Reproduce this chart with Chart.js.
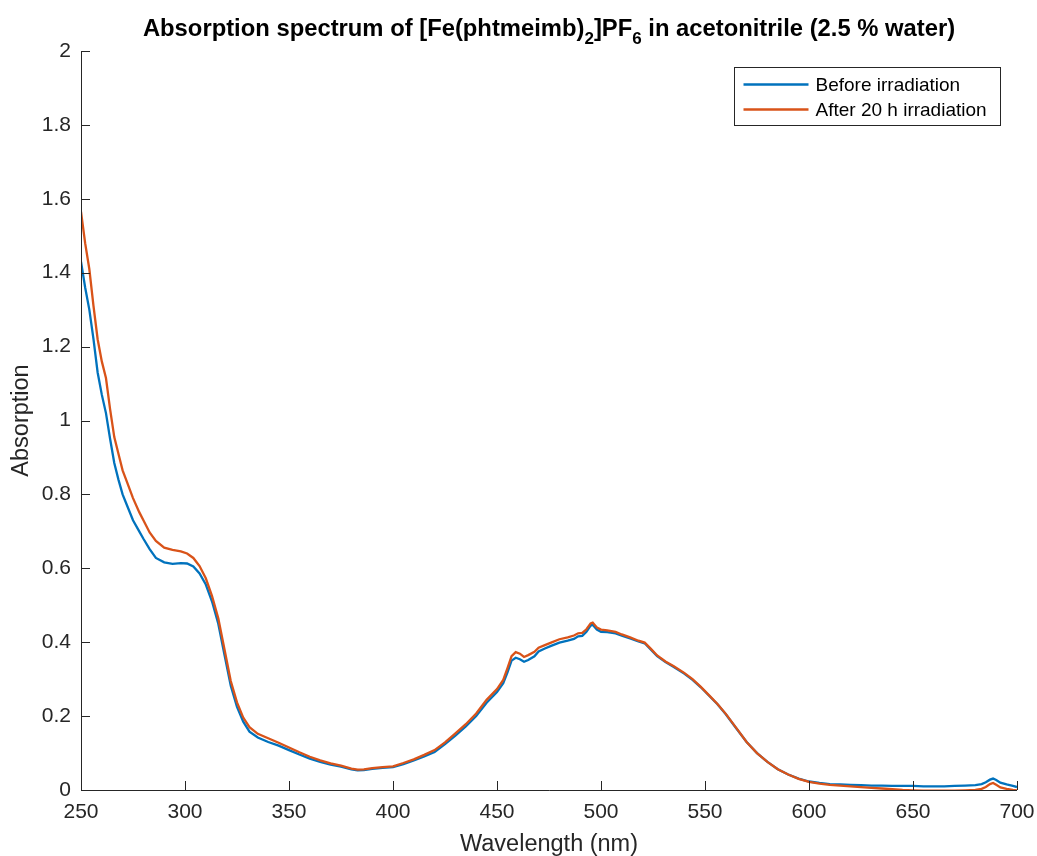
<!DOCTYPE html>
<html>
<head>
<meta charset="utf-8">
<script src="https://cdn.jsdelivr.net/npm/chart.js@4.4.1/dist/chart.umd.min.js"></script>
<style>
  html, body { margin: 0; padding: 0; background: #fff; }
  canvas { display: block; }
</style>
</head>
<body>
<canvas id="spectrum" width="1037" height="856"></canvas>
<script>
// wavelength grid (nm) shared by both spectra
const wavelengths = [
  250, 252, 254, 256, 258, 260, 262, 264, 266, 268, 270, 272, 275, 278, 280, 283, 286, 290, 294, 298,
  301, 304, 307, 310, 313, 316, 319, 322, 325, 328, 331, 335, 340, 345, 350, 355, 360, 365, 370, 375,
  380, 383, 386, 390, 395, 400, 405, 410, 415, 420, 425, 430, 435, 440, 445, 450, 453, 455, 457, 459,
  461, 463, 465, 468, 470, 473, 476, 480, 484, 487, 489, 491, 493, 495, 496, 498, 500, 503, 507, 510,
  514, 518, 521, 524, 527, 531, 535, 540, 544, 548, 552, 556, 560, 565, 570, 575, 580, 585, 590, 595,
  600, 605, 610, 615, 620, 625, 630, 635, 640, 645, 650, 655, 660, 665, 670, 675, 680, 683, 685, 687,
  688.5, 690, 692, 695, 698, 700
];

const beforeIrr = [
  1.43, 1.36, 1.30, 1.22, 1.13, 1.07, 1.02, 0.95, 0.885, 0.84, 0.80, 0.772, 0.73, 0.70, 0.68, 0.652, 0.628, 0.616, 0.612, 0.614,
  0.613, 0.605, 0.586, 0.556, 0.51, 0.45, 0.365, 0.282, 0.225, 0.185, 0.158, 0.142, 0.13, 0.12, 0.108, 0.096, 0.085, 0.076, 0.069, 0.063,
  0.056, 0.053, 0.054, 0.057, 0.060, 0.062, 0.070, 0.080, 0.091, 0.103, 0.124, 0.147, 0.172, 0.200, 0.236, 0.265, 0.289, 0.318, 0.350, 0.358,
  0.354, 0.347, 0.352, 0.362, 0.375, 0.383, 0.390, 0.399, 0.404, 0.409, 0.416, 0.417, 0.428, 0.445, 0.447, 0.434, 0.428, 0.427, 0.424, 0.418,
  0.410, 0.402, 0.397, 0.380, 0.362, 0.346, 0.333, 0.315, 0.298, 0.278, 0.255, 0.232, 0.205, 0.167, 0.130, 0.100, 0.076, 0.056, 0.042, 0.031,
  0.023, 0.019, 0.016, 0.015, 0.014, 0.013, 0.012, 0.012, 0.011, 0.011, 0.011, 0.010, 0.010, 0.010, 0.011, 0.012, 0.013, 0.016, 0.021, 0.028,
  0.031, 0.027, 0.020, 0.015, 0.011, 0.008
];

const afterIrr = [
  1.565, 1.48, 1.41, 1.31, 1.22, 1.16, 1.115, 1.03, 0.955, 0.91, 0.865, 0.835, 0.79, 0.752, 0.73, 0.697, 0.674, 0.656, 0.650, 0.646,
  0.640, 0.628, 0.606, 0.573, 0.525, 0.465, 0.38, 0.295, 0.237, 0.196, 0.170, 0.152, 0.140, 0.128, 0.115, 0.102, 0.090, 0.080, 0.072, 0.066,
  0.058, 0.055, 0.056, 0.059, 0.062, 0.064, 0.073, 0.083, 0.095, 0.108, 0.129, 0.153, 0.178, 0.207, 0.244, 0.273, 0.298, 0.329, 0.362, 0.373,
  0.369, 0.360, 0.365, 0.374, 0.385, 0.392, 0.399, 0.408, 0.413, 0.418, 0.424, 0.425, 0.435, 0.451, 0.453, 0.440, 0.434, 0.432, 0.428, 0.421,
  0.413, 0.404, 0.399, 0.382, 0.364, 0.348, 0.335, 0.317, 0.300, 0.279, 0.256, 0.233, 0.206, 0.168, 0.130, 0.100, 0.076, 0.056, 0.042, 0.030,
  0.022, 0.017, 0.014, 0.012, 0.010, 0.008, 0.006, 0.004, 0.002, 0.000, -0.001, -0.002, -0.002, -0.002, -0.002, -0.001, 0.000, 0.003, 0.008, 0.016,
  0.019, 0.014, 0.007, 0.003, 0.000, -0.001
];

const seriesLabels = ['Before irradiation', 'After 20 h irradiation'];
const xTicks = [250, 300, 350, 400, 450, 500, 550, 600, 650, 700];
const yTicks = [0, 0.2, 0.4, 0.6, 0.8, 1, 1.2, 1.4, 1.6, 1.8, 2];

const titleParts = [
  {text: 'Absorption spectrum of [Fe(phtmeimb)'},
  {text: '2', sub: true},
  {text: ']PF'},
  {text: '6', sub: true},
  {text: ' in acetonitrile (2.5 % water)'}
];

const colours = {before: '#0072BD', after: '#D95319', axis: '#262626'};
const FONT = '"Liberation Sans", Arial, Helvetica, sans-serif';

function toPoints(ys) {
  return wavelengths.map((x, i) => ({x: x, y: ys[i]}));
}

// title with subscripts, centred over the plot area
const subscriptTitle = {
  id: 'subscriptTitle',
  afterDraw(chart) {
    const {ctx, chartArea} = chart;
    const big = 'bold 23.8px ' + FONT, small = 'bold 17px ' + FONT;
    ctx.save();
    ctx.fillStyle = '#000';
    ctx.textBaseline = 'alphabetic';
    ctx.textAlign = 'left';
    let w = 0;
    titleParts.forEach(p => {
      ctx.font = p.sub ? small : big;
      p.w = ctx.measureText(p.text).width;
      w += p.w;
    });
    let x = (chartArea.left + chartArea.right) / 2 - w / 2;
    titleParts.forEach(p => {
      ctx.font = p.sub ? small : big;
      ctx.fillText(p.text, x, p.sub ? 44 : 35.5);
      x += p.w;
    });
    ctx.restore();
  }
};

// axis lines and inward tick marks, drawn over the data
const inwardAxes = {
  id: 'inwardAxes',
  afterDatasetsDraw(chart) {
    const {ctx, chartArea: {left, right, top, bottom}, scales: {x, y}} = chart;
    ctx.save();
    ctx.strokeStyle = colours.axis;
    ctx.lineWidth = 1;
    ctx.beginPath();
    ctx.moveTo(left + 0.5, top);
    ctx.lineTo(left + 0.5, bottom + 0.5);
    ctx.lineTo(right, bottom + 0.5);
    x.ticks.forEach(t => {
      const px = Math.round(x.getPixelForValue(t.value)) + 0.5;
      ctx.moveTo(px, bottom);
      ctx.lineTo(px, bottom - 9);
    });
    y.ticks.forEach(t => {
      const py = Math.round(y.getPixelForValue(t.value)) + 0.5;
      ctx.moveTo(left, py);
      ctx.lineTo(left + 9, py);
    });
    ctx.stroke();
    ctx.restore();
  }
};

// boxed legend in the top-right corner of the plot
const boxLegend = {
  id: 'boxLegend',
  afterDraw(chart) {
    const {ctx, chartArea} = chart;
    const w = 266, h = 58;
    const bx = Math.round(chartArea.right - 17 - w) + 0.5;
    const by = Math.round(chartArea.top + 16) + 0.5;
    ctx.save();
    ctx.fillStyle = '#fff';
    ctx.fillRect(bx, by, w, h);
    ctx.strokeStyle = colours.axis;
    ctx.lineWidth = 1;
    ctx.strokeRect(bx, by, w, h);
    ctx.font = '19px ' + FONT;
    ctx.textBaseline = 'middle';
    ctx.textAlign = 'left';
    chart.data.datasets.forEach((ds, i) => {
      const ly = by + 17 + i * 25;
      ctx.strokeStyle = ds.borderColor;
      ctx.lineWidth = 2.3;
      ctx.beginPath();
      ctx.moveTo(bx + 9, ly);
      ctx.lineTo(bx + 74, ly);
      ctx.stroke();
      ctx.fillStyle = '#000';
      ctx.fillText(ds.label, bx + 81, ly + 1);
    });
    ctx.restore();
  }
};

const ctx = document.getElementById('spectrum').getContext('2d');

const chart = new Chart(ctx, {
  type: 'line',
  plugins: [subscriptTitle, inwardAxes, boxLegend],
  data: {
    datasets: [
      {label: seriesLabels[0], data: toPoints(beforeIrr), borderColor: colours.before, order: 1},
      {label: seriesLabels[1], data: toPoints(afterIrr), borderColor: colours.after, order: 0}
    ]
  },
  options: {
    responsive: false,
    animation: false,
    devicePixelRatio: 1,
    layout: {padding: {top: 51, right: 20, left: 0, bottom: 0}},
    elements: {
      line: {borderWidth: 2.3, tension: 0, fill: false},
      point: {radius: 0, hoverRadius: 0}
    },
    datasets: {line: {clip: 0}},
    plugins: {
      legend: {display: false},
      title: {display: false},
      tooltip: {enabled: false}
    },
    scales: {
      x: {
        type: 'linear',
        min: 250, max: 700,
        grid: {display: false, drawTicks: false},
        border: {display: false},
        afterBuildTicks: s => { s.ticks = xTicks.map(v => ({value: v})); },
        afterFit: s => { s.height = 66; s.paddingLeft = 0; s.paddingRight = 0; },
        ticks: {
          autoSkip: false, maxRotation: 0, padding: 10, color: colours.axis,
          font: {family: FONT, size: 21},
          callback: v => String(v)
        },
        title: {
          display: true, text: 'Wavelength (nm)', color: colours.axis,
          font: {family: FONT, size: 23.5, lineHeight: 1},
          padding: {top: 0, bottom: 0}
        }
      },
      y: {
        min: 0, max: 2,
        grid: {display: false, drawTicks: false},
        border: {display: false},
        afterBuildTicks: s => { s.ticks = yTicks.map(v => ({value: v})); },
        afterFit: s => { s.width = 81; s.paddingTop = 0; s.paddingBottom = 0; },
        ticks: {
          autoSkip: false, padding: 10, color: colours.axis,
          font: {family: FONT, size: 21},
          callback: v => String(Math.round(v * 10) / 10)
        },
        title: {
          display: true, text: 'Absorption', color: colours.axis,
          font: {family: FONT, size: 23.5, lineHeight: 1},
          padding: {top: 10, bottom: 0}
        }
      }
    }
  }
});
</script>
</body>
</html>
